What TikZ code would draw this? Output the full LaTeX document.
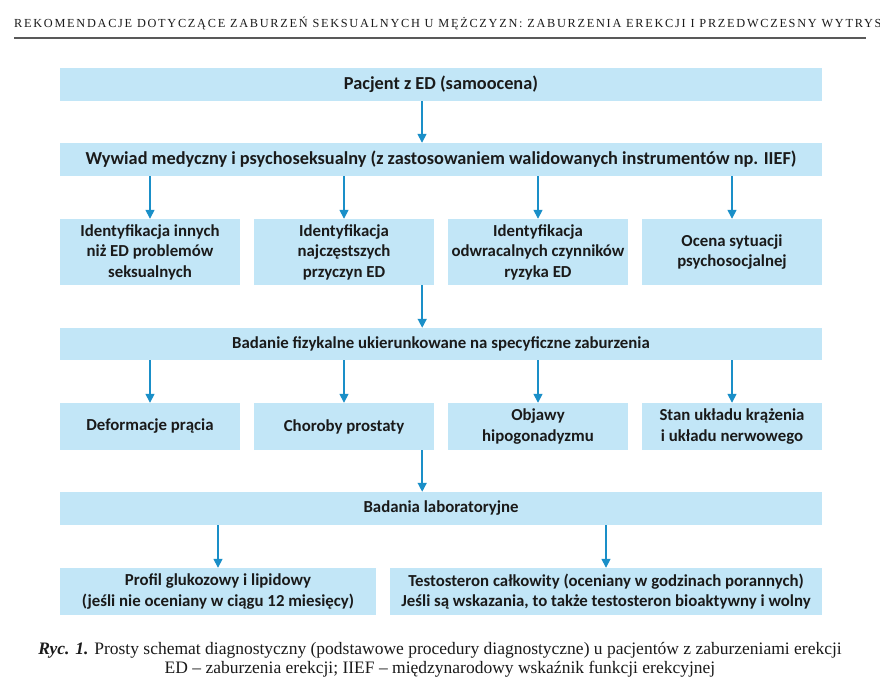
\documentclass[tikz,border=0pt]{standalone}
\usepackage{fontspec}
\setmainfont{Liberation Serif}
\newfontfamily\boxfont{Carlito}
\newfontfamily\headfont[LetterSpace=14]{Liberation Serif}
\usetikzlibrary{arrows.meta}
\definecolor{boxblue}{HTML}{C2E6F7}
\definecolor{arrblue}{HTML}{1A8FC8}
\definecolor{txt}{HTML}{1A1A1A}
\tikzset{
  bx/.style={fill=boxblue, draw=none, inner sep=0pt, align=center, text=txt,
    font=\boxfont\bfseries\fontsize{16.8}{20.5}\selectfont},
  wide/.style={bx, minimum width=762pt, minimum height=33pt},
  widebig/.style={wide, font=\boxfont\bfseries\fontsize{18.3}{20}\selectfont},
  quarter/.style={bx, minimum width=180pt},
  arr/.style={arrblue, line width=1.5pt, -{Triangle[length=9pt,width=9pt]}},
}
\begin{document}
\begin{tikzpicture}[x=1pt,y=-1pt]
\useasboundingbox (0,0) rectangle (880,698);
\clip (0,0) rectangle (880,698);
% header
\node[anchor=base west, inner sep=0pt, text=txt, font=\headfont\fontsize{12.3}{13}\selectfont] (hdr) at (14,27.5)
  {REKOMENDACJE DOTYCZĄCE ZABURZEŃ SEKSUALNYCH U MĘŻCZYZN: ZABURZENIA EREKCJI I PRZEDWCZESNY WYTRYSK};
\coordinate (rl) at (14,38);
\coordinate (rr) at (866,38);
\draw[line width=1.5pt, color=black!65] (rl) -- (rr);
% row 1
\node[widebig] (pac) at (441,84.5) {Pacjent z ED (samoocena)};
\node[widebig] (wyw) at (441,159.5) {Wywiad medyczny i psychoseksualny (z zastosowaniem walidowanych instrumentów np. IIEF)};
% row 3
\node[quarter, minimum height=66pt] (r3a) at (150,252) {Identyfikacja innych\\niż ED problemów\\seksualnych};
\node[quarter, minimum height=66pt] (r3b) at (344,252) {Identyfikacja\\najczęstszych\\przyczyn ED};
\node[quarter, minimum height=66pt] (r3c) at (538,252) {Identyfikacja\\odwracalnych czynników\\ryzyka ED};
\node[quarter, minimum height=66pt] (r3d) at (732,252) {Ocena sytuacji\\psychosocjalnej};
% row 4
\node[wide, minimum height=32pt] (fiz) at (441,344) {Badanie fizykalne ukierunkowane na specyficzne zaburzenia};
% row 5
\node[quarter, minimum height=47pt] (r5a) at (150,426.5) {Deformacje prącia};
\node[quarter, minimum height=47pt] (r5b) at (344,426.5) {Choroby prostaty};
\node[quarter, minimum height=47pt] (r5c) at (538,426.5) {Objawy\\hipogonadyzmu};
\node[quarter, minimum height=47pt] (r5d) at (732,426.5) {Stan układu krążenia\\i układu nerwowego};
% row 6
\node[wide, minimum height=33pt] (lab) at (441,508.5) {Badania laboratoryjne};
% row 7
\node[bx, minimum width=316pt, minimum height=47pt] (pro) at (218,591.5) {Profil glukozowy i lipidowy\\(jeśli nie oceniany w ciągu 12 miesięcy)};
\node[bx, minimum width=432pt, minimum height=47pt] (tes) at (606,591.5) {Testosteron całkowity (oceniany w godzinach porannych)\\Jeśli są wskazania, to także testosteron bioaktywny i wolny};
% arrows
\draw[arr] ([xshift=-19pt]pac.south) -- ([xshift=-19pt]wyw.north);
\foreach \n in {r3a,r3b,r3c,r3d} \draw[arr] (wyw.south -| \n.north) -- (\n.north);
\draw[arr] ([xshift=-12pt]r3b.south east) -- ([xshift=-12pt]r3b.south east |- fiz.north);
\foreach \n in {r5a,r5b,r5c,r5d} \draw[arr] (fiz.south -| \n.north) -- (\n.north);
\draw[arr] ([xshift=-12pt]r5b.south east) -- ([xshift=-12pt]r5b.south east |- lab.north);
\draw[arr] (lab.south -| pro.north) -- (pro.north);
\draw[arr] (lab.south -| tes.north) -- (tes.north);
% caption
\node[align=center, inner sep=0pt, text=txt, font=\fontsize{17.5}{18.5}\selectfont] (cap) at (440,660)
  {\textbf{\textit{Ryc. 1.}} Prosty schemat diagnostyczny (podstawowe procedury diagnostyczne) u pacjentów z zaburzeniami erekcji\\ED – zaburzenia erekcji; IIEF – międzynarodowy wskaźnik funkcji erekcyjnej};
\end{tikzpicture}
\end{document}
